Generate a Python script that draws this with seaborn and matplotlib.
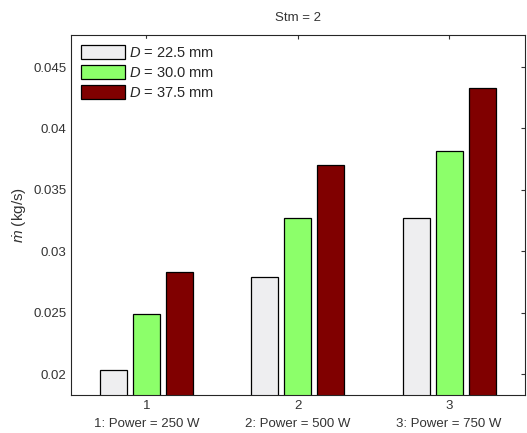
import pandas as pd
import matplotlib.pyplot as plt
import seaborn as sns

# data
groups = ["1", "2", "3"]
powers = ["1: Power = 250 W", "2: Power = 500 W", "3: Power = 750 W"]
diameters = ["$D$ = 22.5 mm", "$D$ = 30.0 mm", "$D$ = 37.5 mm"]
m_22_5 = [0.0203, 0.0279, 0.0327]
m_30_0 = [0.0249, 0.0327, 0.0382]
m_37_5 = [0.0283, 0.0370, 0.0433]
colors = ["#EEEEF0", "#8CFF6A", "#800000"]

rows = []
for d, vals in zip(diameters, [m_22_5, m_30_0, m_37_5]):
    for g, v in zip(groups, vals):
        rows.append({"group": g, "D": d, "mdot": v})
df = pd.DataFrame(rows)

sns.set_style("white")
plt.rcParams["font.family"] = ["Liberation Sans", "DejaVu Sans"]
plt.rcParams["mathtext.fontset"] = "custom"
plt.rcParams["mathtext.it"] = "Liberation Sans:italic"
plt.rcParams["mathtext.rm"] = "Liberation Sans"

fig = plt.figure(figsize=(5.27, 4.33), dpi=100)
ax = fig.add_axes([0.134, 0.088, 0.862, 0.831])

sns.barplot(data=df, x="group", y="mdot", hue="D", palette=colors,
            width=0.655, gap=0.18, edgecolor="black", linewidth=0.9,
            saturation=1, ax=ax)

ax.set_xlim(-0.5, 2.5)
ax.set_ylim(0.0183, 0.0476)
ax.set_yticks([0.02, 0.025, 0.03, 0.035, 0.04, 0.045])
ax.set_yticklabels(["0.02", "0.025", "0.03", "0.035", "0.04", "0.045"])
ax.set_xticks(range(3))
ax.set_xticklabels([g + "\n" + p for g, p in zip(groups, powers)],
                   linespacing=1.6)
ax.tick_params(direction="in", length=3, width=0.8, top=True, right=True,
               labelsize=9.5, colors="#333333", pad=3)
ax.tick_params(axis="x", pad=4)
for s in ax.spines.values():
    s.set_visible(True)
    s.set_color("#262626")
    s.set_linewidth(0.8)

ax.set_xlabel("")
ax.set_ylabel(r"$\dot{m}$ (kg/s)", fontsize=11, color="#333333")
ax.set_title("Stm = 2", fontsize=9.5, color="#333333", pad=10)

ax.legend(loc="upper left", frameon=True, fontsize=10.5, handlelength=3.0,
          handleheight=1.1, handletextpad=0.3, labelspacing=0.35,
          borderaxespad=0.3, fancybox=False, edgecolor="white",
          framealpha=1)

fig.savefig("out.png", dpi=100)
